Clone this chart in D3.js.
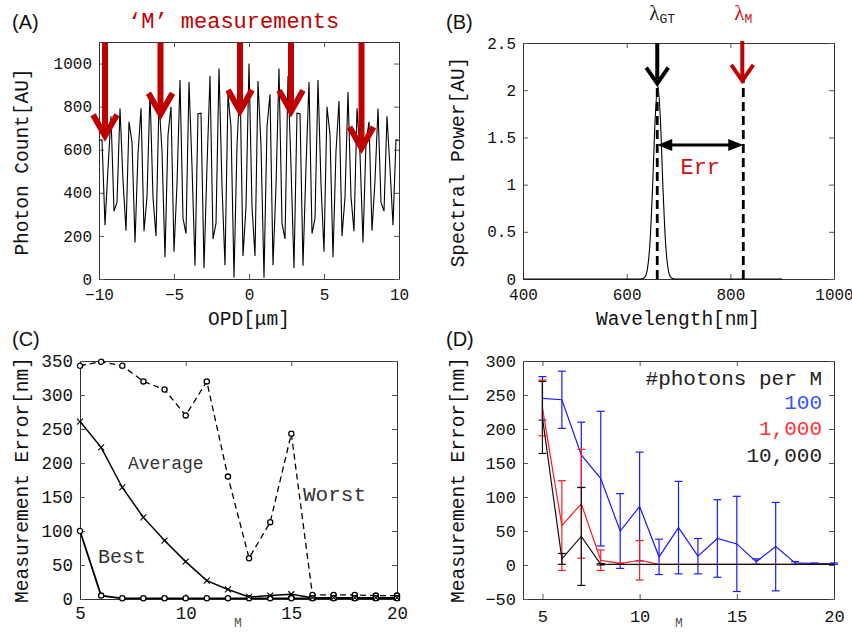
<!DOCTYPE html>
<html>
<head>
<meta charset="utf-8">
<script src="https://cdn.jsdelivr.net/npm/d3@7"></script>
<style>
  body { margin: 0; background: #fff; }
  svg { display: block; }
</style>
</head>
<body>
<div id="chart"></div>
<script>
// ---- data ----
// (A) interferogram, one sample every 0.2 um from -10 to 10
const photonCount = [643, 647, 250, 513, 755, 315, 355, 791, 457, 224, 730, 635, 169, 580, 792, 222, 382, 868, 378, 200,
  826, 593, 101, 669, 799, 127, 440, 923, 282, 211, 914, 522, 62, 767, 770, 50, 523, 942, 186, 258,
  977, 431, 64, 857, 705, 6, 617, 919, 107, 336, 1000, 336, 107, 919, 617, 6, 705, 857, 64, 431,
  977, 258, 186, 942, 523, 50, 770, 767, 62, 522, 914, 211, 282, 923, 440, 127, 799, 669, 101, 593,
  826, 200, 378, 868, 382, 222, 792, 580, 169, 635, 730, 224, 457, 791, 355, 315, 755, 513, 250, 647, 643]
const opd = photonCount.map((d, i) => -10 + i * 0.2)
const arrowOpd = [-9.6, -5.9, -0.6, 2.8, 7.5]
const arrowTip = [665, 765, 780, 778, 608]

// (B) spectrum
const wavelength = [400, 620, 630, 635, 640, 645, 650, 655, 660, 665, 670, 675, 680, 685, 690, 700, 900]
const spectralPower = [0, 0, 0.003, 0.02, 0.105, 0.385, 0.97, 1.7, 2.05, 1.7, 0.97, 0.385, 0.105, 0.02, 0.003, 0, 0]
const lambdaGT = 659
const lambdaM = 825

// (C) error vs M
const mValues = [5, 6, 7, 8, 9, 10, 11, 12, 13, 14, 15, 16, 17, 18, 19, 20]
const worstErr = [343, 349, 343, 320, 308, 270, 320, 180, 60, 113, 243, 6, 6, 6, 5, 5]
const averageErr = [261, 223, 164, 120, 86, 55, 27, 14, 3, 5, 7, 2, 2, 2, 2, 2]
const bestErr = [100, 5, 1, 1, 1, 1, 1, 1, 1, 1, 1, 1, 1, 1, 1, 1]

// (D) error vs M by photon count
const photonLabels = ["100", "1,000", "10,000"]
const mean100 = [245, 243, 162, 127, 50, 86, 12, 55, 13, 39, 31, 5, 27, 3, 2, 2]
const sd100 = [32, 42, 48, 99, 55, 80, 26, 68, 26, 57, 70, 4, 65, 2, 1, 1]
const mean1000 = [231, 58, 90, 7, 2, 7, 1, 1, 1, 1, 1, 1, 1, 1, 1, 1]
const sd1000 = [41, 66, 80, 15, 1, 29, 0, 0, 0, 0, 0, 0, 0, 0, 0, 0]
const mean10000 = [217, 9, 42, 1, 1, 1, 1, 1, 1, 1, 1, 1, 1, 1, 1, 1]
const sd10000 = [53, 8, 72, 1, 0, 0, 0, 0, 0, 0, 0, 0, 0, 0, 0, 0]

// ---- setup ----
const mono = "'Liberation Mono', 'DejaVu Sans Mono', monospace"
const sans = "'Liberation Sans', Arial, sans-serif"
const darkRed = "#c00000"

const svg = d3.select("#chart").append("svg")
  .attr("width", 852)
  .attr("height", 632)

const minusFmt = d => (d < 0 ? "\u2212" : "") + Math.abs(d)

function addPanel(box, x, y, xTicks, yTicks, fontSize, xPad) {
  const g = svg.append("g").attr("transform", `translate(${box.left},${box.top})`)
  g.append("g").attr("transform", `translate(0,${box.height})`)
    .call(d3.axisBottom(x).tickValues(xTicks).tickSizeInner(-5).tickSizeOuter(0).tickPadding(xPad).tickFormat(minusFmt))
  g.append("g")
    .call(d3.axisTop(x).tickValues(xTicks).tickSizeInner(-5).tickSizeOuter(0).tickFormat(""))
  g.append("g")
    .call(d3.axisLeft(y).tickValues(yTicks).tickSizeInner(-5).tickSizeOuter(0).tickPadding(7).tickFormat(minusFmt))
  g.append("g").attr("transform", `translate(${box.width},0)`)
    .call(d3.axisRight(y).tickValues(yTicks).tickSizeInner(-5).tickSizeOuter(0).tickFormat(""))
  g.selectAll(".domain").attr("stroke", "#333")
  g.selectAll(".tick line").attr("stroke", "#555")
  g.selectAll(".tick text")
    .attr("font-family", mono)
    .attr("font-size", fontSize)
    .attr("fill", "#111")
  return g
}

function label(text, x, y, opts = {}) {
  const t = svg.append("text")
    .attr("x", x).attr("y", y)
    .attr("font-family", opts.font || mono)
    .attr("font-size", opts.size || 19.5)
    .attr("fill", opts.color || "#111")
    .attr("text-anchor", opts.anchor || "middle")
    .text(text)
  if (opts.rotate) t.attr("transform", `rotate(-90,${x},${y})`)
  return t
}

function downArrow(g, x, yTop, yTip, color, shaftW, half, headH) {
  g.append("line")
    .attr("x1", x).attr("x2", x)
    .attr("y1", yTop).attr("y2", yTip - 4)
    .attr("stroke", color).attr("stroke-width", shaftW)
  g.append("path")
    .attr("d", `M${x - half},${yTip - headH}L${x},${yTip}L${x + half},${yTip - headH}`)
    .attr("fill", "none").attr("stroke", color).attr("stroke-width", shaftW)
    .attr("stroke-linejoin", "miter")
}

// ---- (A) ----
const boxA = { left: 99, top: 42, width: 300, height: 237 }
const xA = d3.scaleLinear().domain([-10, 10]).range([0, boxA.width])
const yA = d3.scaleLinear().domain([0, 1100]).range([boxA.height, 0])
const gA = addPanel(boxA, xA, yA, [-10, -5, 0, 5, 10], [0, 200, 400, 600, 800, 1000], 16, 10)

gA.append("path")
  .datum(photonCount)
  .attr("d", d3.line().x((d, i) => xA(opd[i])).y(d => yA(d)))
  .attr("fill", "none")
  .attr("stroke", "#000")
  .attr("stroke-width", 1.1)

arrowOpd.forEach((o, i) => downArrow(gA, xA(o), 1, yA(arrowTip[i]), darkRed, 6, 12, 21))

label("(A)", 12, 29, { font: sans, size: 20, anchor: "start" })
label("\u2018M\u2019 measurements", 128, 28, { size: 22, color: darkRed, anchor: "start" })
label("Photon Count[AU]", 28, 162, { rotate: true })
label("OPD[\u03bcm]", 249, 325)

// ---- (B) ----
const boxB = { left: 523, top: 43, width: 311, height: 236 }
const xB = d3.scaleLinear().domain([400, 1000]).range([0, boxB.width])
const yB = d3.scaleLinear().domain([0, 2.5]).range([boxB.height, 0])
const gB = addPanel(boxB, xB, yB, [400, 600, 800, 1000], [0, 0.5, 1, 1.5, 2, 2.5], 16, 10)

gB.append("path")
  .datum(wavelength)
  .attr("d", d3.line().curve(d3.curveMonotoneX).x(d => xB(d)).y((d, i) => yB(spectralPower[i])))
  .attr("fill", "none")
  .attr("stroke", "#000")
  .attr("stroke-width", 1.1)

gB.append("line")
  .attr("x1", xB(lambdaGT)).attr("x2", xB(lambdaGT))
  .attr("y1", yB(0)).attr("y2", yB(2.07))
  .attr("stroke", "#000").attr("stroke-width", 2.8).attr("stroke-dasharray", "9,5")
gB.append("line")
  .attr("x1", xB(lambdaM)).attr("x2", xB(lambdaM))
  .attr("y1", yB(0)).attr("y2", yB(2.2))
  .attr("stroke", "#000").attr("stroke-width", 2.8).attr("stroke-dasharray", "9,5")

downArrow(gB, xB(lambdaGT), 0, yB(2.07), "#000", 4, 11, 16)
downArrow(gB, xB(lambdaM) - 1, -2, yB(2.1), darkRed, 4, 11, 16)

// Err double arrow
const errY = yB(1.42)
const ex1 = xB(lambdaGT), ex2 = xB(lambdaM)
gB.append("line")
  .attr("x1", ex1 + 10).attr("x2", ex2 - 10)
  .attr("y1", errY).attr("y2", errY)
  .attr("stroke", "#000").attr("stroke-width", 3)
gB.append("path")
  .attr("d", `M${ex1},${errY}L${ex1 + 15},${errY - 6}L${ex1 + 15},${errY + 6}Z M${ex2},${errY}L${ex2 - 15},${errY - 6}L${ex2 - 15},${errY + 6}Z`)
  .attr("fill", "#000")

label("Err", boxB.left + xB(742), boxB.top + yB(1.11), { size: 22, color: "#d01010" })

const lgt = label("\u03bb", boxB.left + xB(lambdaGT) - 8, 20, { font: "'Liberation Serif', serif", size: 21, color: "#222", anchor: "start" })
lgt.append("tspan").attr("font-size", 13).attr("dy", 3).attr("font-family", mono).text("GT")
const lm = label("\u03bb", boxB.left + xB(lambdaM) - 9, 20, { font: "'Liberation Serif', serif", size: 21, color: "#d01010", anchor: "start" })
lm.append("tspan").attr("font-size", 13).attr("dy", 3).attr("font-family", mono).text("M")

label("(B)", 446, 29, { font: sans, size: 20, anchor: "start" })
label("Spectral Power[AU]", 464, 162, { rotate: true })
label("Wavelength[nm]", 678, 325)

// ---- (C) ----
const boxC = { left: 80, top: 361, width: 317, height: 238 }
const xC = d3.scaleLinear().domain([5, 20]).range([0, boxC.width])
const yC = d3.scaleLinear().domain([0, 350]).range([boxC.height, 0])
const gC = addPanel(boxC, xC, yC, [5, 10, 15, 20], [0, 50, 100, 150, 200, 250, 300, 350], 17.5, 8)

const lineC = vals => d3.line().x((d, i) => xC(mValues[i])).y(d => yC(d))(vals)

gC.append("path").attr("d", lineC(worstErr))
  .attr("fill", "none").attr("stroke", "#000").attr("stroke-width", 1.3).attr("stroke-dasharray", "6,4")
gC.append("path").attr("d", lineC(averageErr))
  .attr("fill", "none").attr("stroke", "#000").attr("stroke-width", 1.5)
gC.append("path").attr("d", lineC(bestErr))
  .attr("fill", "none").attr("stroke", "#000").attr("stroke-width", 1.8)

;[worstErr, bestErr].forEach(vals => {
  gC.selectAll(null).data(vals).enter().append("circle")
    .attr("cx", (d, i) => xC(mValues[i]))
    .attr("cy", d => yC(d))
    .attr("r", 2.6)
    .attr("fill", "#fff")
    .attr("stroke", "#000")
    .attr("stroke-width", 1.3)
})
gC.selectAll(null).data(averageErr).enter().append("path")
  .attr("d", (d, i) => {
    const cx = xC(mValues[i]), cy = yC(d)
    return `M${cx - 3},${cy - 3}L${cx + 3},${cy + 3}M${cx - 3},${cy + 3}L${cx + 3},${cy - 3}`
  })
  .attr("stroke", "#000").attr("stroke-width", 1.1)

label("Average", 128, 469, { size: 18, color: "#333", anchor: "start" })
label("Worst", 303, 501, { size: 21, color: "#333", anchor: "start" })
label("Best", 98, 563, { size: 20, color: "#333", anchor: "start" })

label("(C)", 12, 346, { font: sans, size: 20, anchor: "start" })
label("Measurement Error[nm]", 28, 480, { rotate: true })
label("M", 238, 627, { size: 13, color: "#555" })

// ---- (D) ----
const boxD = { left: 523, top: 361, width: 311, height: 238 }
const xD = d3.scaleLinear().domain([4, 20]).range([0, boxD.width])
const yD = d3.scaleLinear().domain([-50, 300]).range([boxD.height, 0])
const gD = addPanel(boxD, xD, yD, [5, 10, 15, 20], [-50, 0, 50, 100, 150, 200, 250, 300], 17, 11)

const seriesD = [
  { mean: mean100, sd: sd100, color: "#1a1aff" },
  { mean: mean1000, sd: sd1000, color: "#ff1a1a" },
  { mean: mean10000, sd: sd10000, color: "#111" }
]

seriesD.forEach(s => {
  const bars = gD.append("g")
  s.mean.forEach((m, i) => {
    if (s.sd[i] <= 0) return
    const cx = xD(mValues[i])
    const lo = yD(m - s.sd[i]), hi = yD(m + s.sd[i])
    bars.append("line").attr("x1", cx).attr("x2", cx).attr("y1", lo).attr("y2", hi)
    bars.append("line").attr("x1", cx - 4).attr("x2", cx + 4).attr("y1", lo).attr("y2", lo)
    bars.append("line").attr("x1", cx - 4).attr("x2", cx + 4).attr("y1", hi).attr("y2", hi)
  })
  bars.selectAll("line").attr("stroke", s.color).attr("stroke-width", 1.2)
  gD.append("path")
    .datum(s.mean)
    .attr("d", d3.line().x((d, i) => xD(mValues[i])).y(d => yD(d)))
    .attr("fill", "none")
    .attr("stroke", s.color)
    .attr("stroke-width", 1.2)
})

label("#photons per M", 822, 385, { size: 21, color: "#222", anchor: "end" })
label(photonLabels[0], 822, 409, { size: 21, color: "#3355ff", anchor: "end" })
label(photonLabels[1], 822, 435, { size: 21, color: "#ff3333", anchor: "end" })
label(photonLabels[2], 822, 462, { size: 21, color: "#222", anchor: "end" })

label("(D)", 446, 346, { font: sans, size: 20, anchor: "start" })
label("Measurement Error[nm]", 464, 480, { rotate: true })
label("M", 679, 627, { size: 13, color: "#555" })
</script>
</body>
</html>
